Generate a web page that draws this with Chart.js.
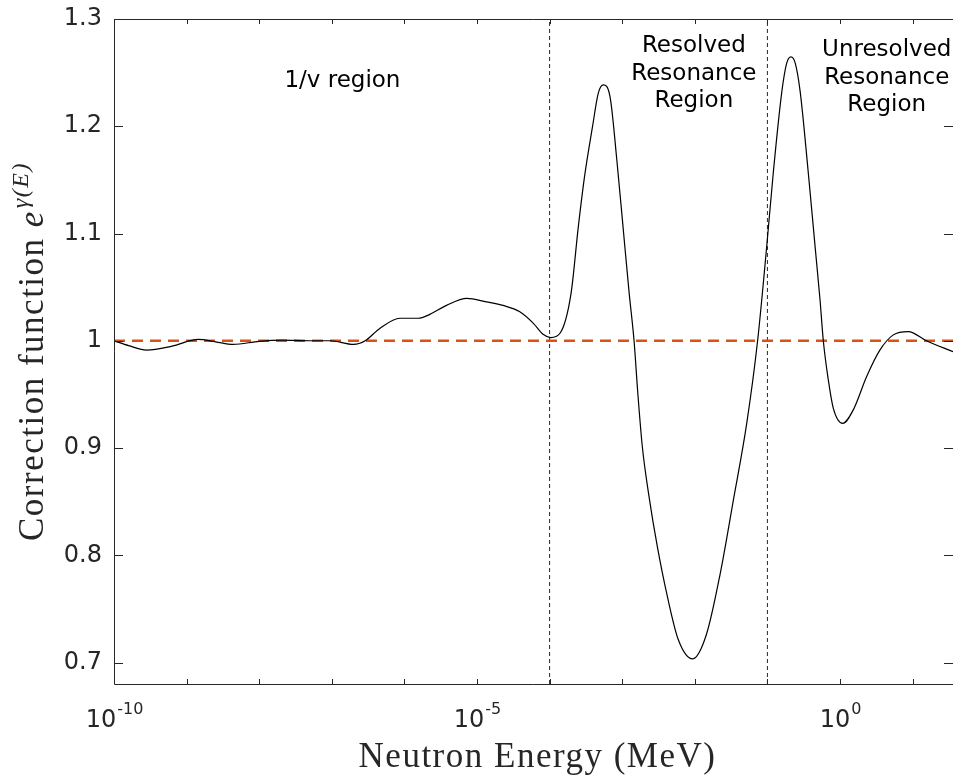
<!DOCTYPE html>
<html>
<head>
<meta charset="utf-8">
<script src="https://cdn.jsdelivr.net/npm/chart.js@4.4.1/dist/chart.umd.min.js"></script>
<style>
  html, body { margin: 0; padding: 0; background: #fff; }
  #wrap { width: 953px; height: 776px; position: relative; }
</style>
</head>
<body>
<div id="wrap"><canvas id="corrChart"></canvas></div>
<script>
// 曲线数据（能量 MeV / 修正函数值）
const energy = [
  1e-10, 1.585e-10, 2.818e-10, 6.31e-10, 1.445e-9, 2.512e-9, 4.365e-9, 1e-8,
  2.042e-8, 5.012e-8, 9.55e-8, 1.995e-7, 2.884e-7, 4.571e-7, 8.71e-7, 1.549e-6,
  2.239e-6, 3.802e-6, 7.244e-6, 1.349e-5, 2.291e-5, 3.89e-5, 6.026e-5, 8.128e-5,
  1.035e-4, 1.39e-4, 1.972e-4, 2.483e-4, 3.027e-4, 3.899e-4, 4.677e-4, 5.495e-4,
  6.792e-4, 8.433e-4, 1.026e-3, 1.247e-3, 1.456e-3, 1.637e-3, 1.892e-3, 2.339e-3,
  3.048e-3, 4.188e-3, 5.929e-3, 9.333e-3, 1.445e-2, 2.239e-2, 3.388e-2, 5.188e-2,
  7.328e-2, 9.772e-2, 0.1202, 0.1585, 0.1841, 0.2113, 0.2421, 0.2818,
  0.3664, 0.4581, 0.5309, 0.5888, 0.6918, 0.8091, 1.089, 1.524,
  2.328, 3.556, 5.42, 8.71, 15.49, 35.97
];
const correction = [
  1.0, 0.9955, 0.9913, 0.995, 1.0013, 0.999, 0.9966, 0.9995,
  1.0006, 1.0, 1.0, 0.9966, 1.0, 1.0115, 1.021, 1.021,
  1.0246, 1.033, 1.0395, 1.0363, 1.033, 1.027, 1.016, 1.006,
  1.003, 1.007, 1.044, 1.106, 1.153, 1.1996, 1.2307, 1.2385,
  1.2276, 1.1686, 1.1064, 1.0444, 1.0, 0.952, 0.9014, 0.855,
  0.808, 0.7616, 0.7213, 0.7035, 0.7262, 0.783, 0.851, 0.923,
  1.0, 1.0876, 1.156, 1.233, 1.2587, 1.2647, 1.2587, 1.233,
  1.156, 1.0847, 1.038, 1.0, 0.963, 0.937, 0.923, 0.9356,
  0.9667, 0.9915, 1.0055, 1.0086, 1.0, 0.9898
];

// 区域分界线与参考线
const boundaryEnergies = [1e-4, 1e-1];
const referenceLevel = 1;

// 坐标轴
const xMin = 1e-10, xMax = 36;
const yMin = 0.68, yMax = 1.3;
const xTickExponents = [-10, -9, -8, -7, -6, -5, -4, -3, -2, -1, 0, 1];
const xLabelExponents = [-10, -5, 0];
const yTicks = [0.7, 0.8, 0.9, 1.0, 1.1, 1.2, 1.3];

// 区域标注
const regionNames = [
  ['1/v region'],
  ['Resolved', 'Resonance', 'Region'],
  ['Unresolved', 'Resonance', 'Region']
];

const frameColor = '#262626';

// 边框、刻度、标签、标题
const decorPlugin = {
  id: 'decor',
  afterDraw(chart) {
    const ctx = chart.ctx;
    const a = chart.chartArea;
    const xs = chart.scales.x, ys = chart.scales.y;
    ctx.save();
    ctx.strokeStyle = frameColor;
    ctx.lineWidth = 1;
    ctx.beginPath();
    ctx.moveTo(a.left + 0.5, a.top + 0.5);
    ctx.lineTo(a.right, a.top + 0.5);
    ctx.moveTo(a.left + 0.5, a.top);
    ctx.lineTo(a.left + 0.5, a.bottom + 0.5);
    ctx.lineTo(a.right, a.bottom + 0.5);
    // x 刻度（朝内）
    xTickExponents.forEach(e => {
      const px = Math.round(xs.getPixelForValue(Math.pow(10, e))) + 0.5;
      ctx.moveTo(px, a.bottom);
      ctx.lineTo(px, a.bottom - 5);
      ctx.moveTo(px, a.top);
      ctx.lineTo(px, a.top + 5);
    });
    // y 刻度（朝内）
    yTicks.forEach(v => {
      const py = Math.round(ys.getPixelForValue(v)) + 0.5;
      ctx.moveTo(a.left, py);
      ctx.lineTo(a.left + 9, py);
      ctx.moveTo(a.right, py);
      ctx.lineTo(a.right - 9, py);
    });
    ctx.stroke();

    // y 刻度标签
    ctx.fillStyle = frameColor;
    ctx.font = '24px "DejaVu Sans"';
    ctx.textAlign = 'right';
    ctx.textBaseline = 'middle';
    yTicks.forEach(v => {
      ctx.fillText(String(+v.toFixed(1)), a.left - 12, ys.getPixelForValue(v));
    });

    // x 刻度标签 10^n
    ctx.textBaseline = 'alphabetic';
    ctx.textAlign = 'left';
    xLabelExponents.forEach(e => {
      const px = xs.getPixelForValue(Math.pow(10, e));
      const base = '10';
      const sup = String(e);
      ctx.font = '24px "DejaVu Sans"';
      const wb = ctx.measureText(base).width;
      ctx.font = '16px "DejaVu Sans"';
      const ws = ctx.measureText(sup).width;
      const x0 = px - (wb + ws) / 2;
      ctx.font = '24px "DejaVu Sans"';
      ctx.fillText(base, x0, a.bottom + 43);
      ctx.font = '16px "DejaVu Sans"';
      ctx.fillText(sup, x0 + wb + 1, a.bottom + 30);
    });

    // x 轴标题
    ctx.textAlign = 'center';
    ctx.font = '35px "Liberation Serif"';
    if ('letterSpacing' in ctx) ctx.letterSpacing = '1.5px';
    ctx.fillText('Neutron Energy (MeV)', (a.left + a.right) / 2 + 4, 767);

    // y 轴标题（含上标）
    ctx.save();
    ctx.translate(43, (a.top + a.bottom) / 2);
    ctx.rotate(-Math.PI / 2);
    ctx.textAlign = 'left';
    const mainTxt = 'Correction function ';
    ctx.font = '35px "Liberation Serif"';
    const w1 = ctx.measureText(mainTxt).width;
    ctx.font = 'italic 35px "Liberation Serif"';
    const w2 = ctx.measureText('e').width;
    ctx.font = 'italic 24px "Liberation Serif"';
    const w3 = ctx.measureText('\u03B3(E)').width;
    let sx = -(w1 + w2 + w3 + 2) / 2;
    ctx.font = '35px "Liberation Serif"';
    ctx.fillText(mainTxt, sx, 0);
    sx += w1;
    ctx.font = 'italic 35px "Liberation Serif"';
    ctx.fillText('e', sx, 0);
    sx += w2 + 2;
    ctx.font = 'italic 24px "Liberation Serif"';
    ctx.fillText('\u03B3(E)', sx, -15);
    ctx.restore();
    if ('letterSpacing' in ctx) ctx.letterSpacing = '0px';

    // 区域文字
    ctx.fillStyle = '#000';
    ctx.textAlign = 'center';
    ctx.font = '23px "DejaVu Sans"';
    const notePos = [
      { x: 1.4e-7, y: 87, step: 0 },
      { x: 9.7e-3, y: 52, step: 27.5 },
      { x: 4.4, y: 56, step: 27.5 }
    ];
    regionNames.forEach((lines, i) => {
      const p = notePos[i];
      const px = xs.getPixelForValue(p.x);
      lines.forEach((t, k) => ctx.fillText(t, px, p.y + k * p.step));
    });
    ctx.restore();
  }
};

const boundaryDatasets = boundaryEnergies.map(e => ({
  data: [{ x: e, y: yMin }, { x: e, y: yMax }],
  borderColor: '#262626',
  borderWidth: 1,
  borderDash: [4, 3],
  pointRadius: 0,
  tension: 0,
  fill: false
}));

const ctx = document.getElementById('corrChart').getContext('2d');
const corrChart = new Chart(ctx, {
  type: 'line',
  data: {
    datasets: [
      {
        data: energy.map((e, i) => ({ x: e, y: correction[i] })),
        borderColor: '#000000',
        borderWidth: 1.2,
        pointRadius: 0,
        cubicInterpolationMode: 'monotone',
        fill: false
      },
      {
        data: [{ x: xMin, y: referenceLevel }, { x: xMax, y: referenceLevel }],
        borderColor: '#D95319',
        borderWidth: 2.6,
        borderDash: [11, 7],
        pointRadius: 0,
        tension: 0,
        fill: false
      },
      ...boundaryDatasets
    ]
  },
  options: {
    responsive: true,
    maintainAspectRatio: false,
    animation: false,
    layout: { padding: { top: 19, right: 0, left: 0, bottom: 0 } },
    plugins: {
      legend: { display: false },
      tooltip: { enabled: false }
    },
    scales: {
      x: {
        type: 'logarithmic',
        min: xMin,
        max: xMax,
        afterBuildTicks: scale => {
          scale.ticks = xTickExponents.map(e => ({ value: Math.pow(10, e) }));
        },
        afterFit: scale => { scale.height = 92; },
        grid: { display: false },
        border: { display: false },
        ticks: { display: false }
      },
      y: {
        min: yMin,
        max: yMax,
        afterBuildTicks: scale => {
          scale.ticks = yTicks.map(v => ({ value: v }));
        },
        afterFit: scale => { scale.width = 114; },
        grid: { display: false, drawTicks: false },
        border: { display: false },
        ticks: { display: false }
      }
    }
  },
  plugins: [decorPlugin]
});
</script>
</body>
</html>
